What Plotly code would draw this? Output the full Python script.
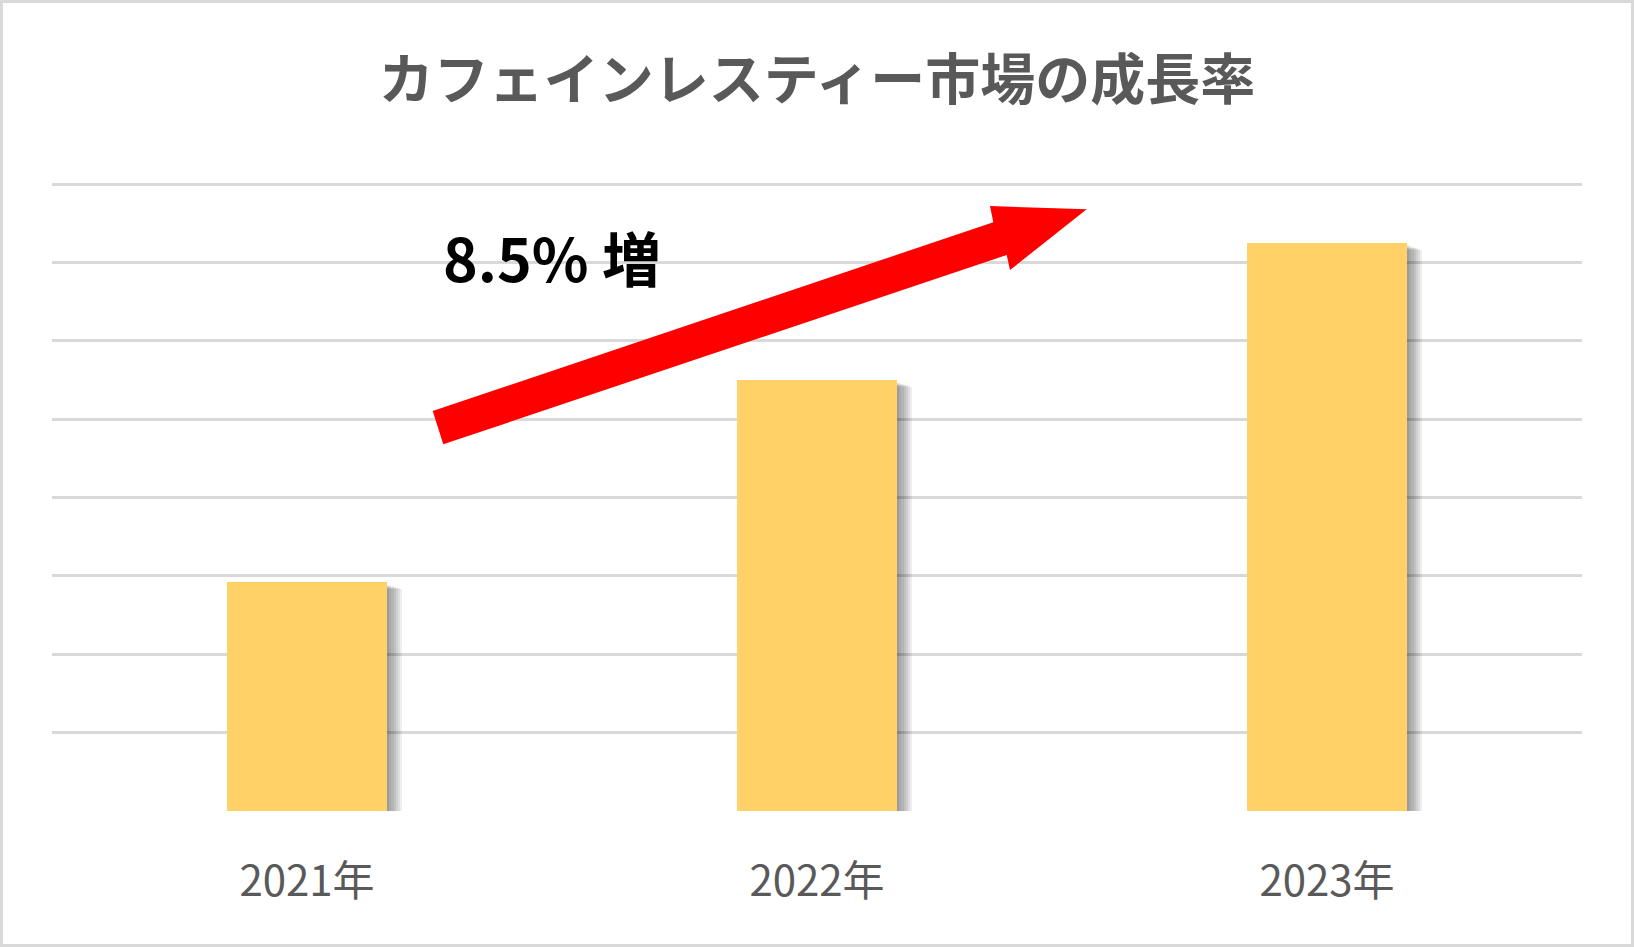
import plotly.graph_objects as go

# ---- data ----
years = ["2021年", "2022年", "2023年"]
values = [2.92, 5.50, 7.25]
title_text = "カフェインレスティー市場の成長率"
growth_label = "8.5% 増"

# ---- layout geometry (px) ----
W, H = 1634, 947
L, R, B = 52, 52, 136
grid_top = 184
px_per_unit = (H - B - grid_top) / 8
T = grid_top - 2
plot_w = W - L - R
plot_h = H - T - B
y_top = plot_h / px_per_unit
px_per_cat = plot_w / len(years)

bar_w = 0.314
bar_color = "#FFD167"

fig = go.Figure()

# soft shadow layers (drawn behind the bars)
n_layers = 7
for i in range(1, n_layers + 1):
    shift = i * 2.2
    fig.add_trace(go.Bar(
        x=years,
        y=[v - (2 + i * 0.7) / px_per_unit + 2.5 / px_per_unit for v in values],
        base=[-2.5 / px_per_unit] * len(values),
        width=bar_w,
        offset=-bar_w / 2 + shift / px_per_cat,
        marker=dict(color="rgba(0,0,0,0.065)", line=dict(width=0)),
        hoverinfo="skip",
        showlegend=False,
    ))

fig.add_trace(go.Bar(
    x=years,
    y=values,
    width=bar_w,
    offset=-bar_w / 2,
    marker=dict(color=bar_color, line=dict(width=0)),
    showlegend=False,
))


def pp(x, y):
    return (x - L) / plot_w, (H - B - y) / plot_h


arrow_px = [(432.7, 411), (993.3, 222.3), (990, 206), (1086.7, 209.3),
            (1010, 270), (1006.7, 255), (443.3, 444.3)]
path = ""
for k, (x, y) in enumerate(arrow_px):
    a, b = pp(x, y)
    path += ("M" if k == 0 else "L") + f"{a:.5f},{b:.5f} "
path += "Z"

x0, y0 = pp(1.5, H - 1.5)
x1, y1 = pp(W - 1.5, 1.5)

fig.update_layout(
    width=W, height=H,
    margin=dict(l=L, r=R, t=T, b=B, pad=0),
    paper_bgcolor="white",
    plot_bgcolor="white",
    barmode="overlay",
    bargap=0,
    title=dict(
        text=title_text,
        x=0.5, xanchor="center",
        y=1 - 80 / H, yanchor="middle", yref="container",
        font=dict(family="Noto Sans CJK JP", size=55, color="#595959", weight=700),
    ),
    xaxis=dict(
        showgrid=False, showline=False, zeroline=False, ticks="",
        tickfont=dict(family="Noto Sans CJK JP", size=42, color="#595959"),
        ticklabelstandoff=42,
    ),
    yaxis=dict(
        range=[0, y_top], dtick=1, showticklabels=False,
        showgrid=True, gridcolor="#D9D9D9", gridwidth=2.5,
        zeroline=False, showline=False, ticks="",
    ),
    shapes=[
        dict(type="path", path=path, xref="paper", yref="paper",
             fillcolor="#FF0000", line=dict(width=0), layer="above"),
        dict(type="rect", xref="paper", yref="paper",
             x0=x0, y0=y0, x1=x1, y1=y1,
             line=dict(color="#D9D9D9", width=3), fillcolor="rgba(0,0,0,0)",
             layer="above"),
    ],
    annotations=[
        dict(text=growth_label, xref="paper", yref="paper",
             x=pp(552, 256)[0], y=pp(552, 256)[1],
             xanchor="center", yanchor="middle", showarrow=False,
             font=dict(family="Noto Sans CJK JP", size=59, color="#000000", weight=700)),
    ],
)

fig.write_html("out.html", config={"displayModeBar": False},
               post_script="document.body.style.margin='0';")
